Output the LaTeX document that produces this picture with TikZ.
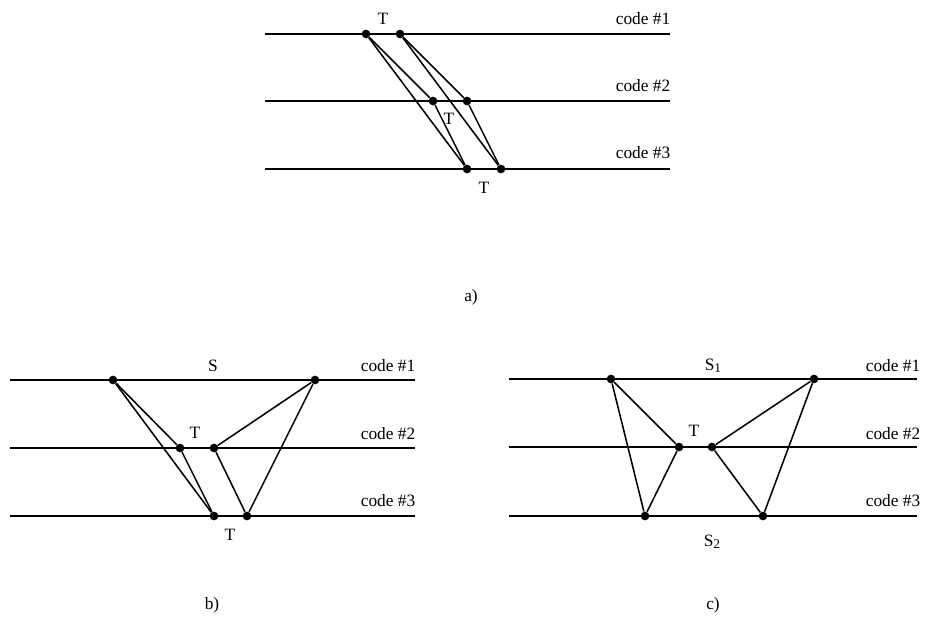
\documentclass[tikz,border=0pt]{standalone}
\usepackage{fontspec}
\setmainfont{Liberation Serif}
\usetikzlibrary{positioning}

\begin{document}
\begin{tikzpicture}[
  x=0.75pt, y=-0.75pt,
  dot/.style={circle, fill=black, inner sep=0pt, minimum size=6.5pt},
  track/.style={line width=1.6pt, black},
  link/.style={line width=1.15pt, black},
  lbl/.style={font=\fontsize{13}{15}\selectfont, inner sep=0pt},
]
\useasboundingbox (0,0) rectangle (943,627);

% =============================================
% a) three codes, shifted pairs
% =============================================
\coordinate (a1s) at (265,34);  \coordinate (a1e) at (670,34);
\coordinate (a2s) at (265,101); \coordinate (a2e) at (670,101);
\coordinate (a3s) at (265,169); \coordinate (a3e) at (670,169);
\draw[track] (a1s) -- (a1e);
\draw[track] (a2s) -- (a2e);
\draw[track] (a3s) -- (a3e);

\node[dot] (a11) at (366,34) {};
\node[dot] (a12) at (400,34) {};
\node[dot] (a21) at (433,101) {};
\node[dot] (a22) at (467,101) {};
\node[dot] (a31) at (467,169) {};
\node[dot] (a32) at (501,169) {};

\draw[link] (a11) -- (a21);
\draw[link] (a11) -- (a31);
\draw[link] (a12) -- (a22);
\draw[link] (a12) -- (a32);
\draw[link] (a21) -- (a31);
\draw[link] (a22) -- (a32);

\node[lbl] (aT1) at (383,19) {T};
\node[lbl] (aT2) at (449,119) {T};
\node[lbl] (aT3) at (484,188) {T};

\node[lbl] (ac1) at (643,19) {code \#1};
\node[lbl] (ac2) at (643,86) {code \#2};
\node[lbl] (ac3) at (643,153) {code \#3};

\node[lbl] (acap) at (471,297) {a)};

% =============================================
% b) S on code #1, T on codes #2 and #3
% =============================================
\coordinate (b1s) at (10,380);  \coordinate (b1e) at (415,380);
\coordinate (b2s) at (10,448);  \coordinate (b2e) at (415,448);
\coordinate (b3s) at (10,516);  \coordinate (b3e) at (415,516);
\draw[track] (b1s) -- (b1e);
\draw[track] (b2s) -- (b2e);
\draw[track] (b3s) -- (b3e);

\node[dot] (b11) at (113,380) {};
\node[dot] (b12) at (315,380) {};
\node[dot] (b21) at (180,448) {};
\node[dot] (b22) at (214,448) {};
\node[dot] (b31) at (214,516) {};
\node[dot] (b32) at (247,516) {};

\draw[link] (b11) -- (b21);
\draw[link] (b11) -- (b31);
\draw[link] (b21) -- (b31);
\draw[link] (b12) -- (b22);
\draw[link] (b12) -- (b32);
\draw[link] (b22) -- (b32);

\node[lbl] (bS) at (213,366) {S};
\node[lbl] (bT1) at (195,433) {T};
\node[lbl] (bT2) at (230,535) {T};

\node[lbl] (bc1) at (388,366) {code \#1};
\node[lbl] (bc2) at (388,434) {code \#2};
\node[lbl] (bc3) at (388,501) {code \#3};

\node[lbl] (bcap) at (212,605) {b)};

% =============================================
% c) S_1 on code #1, T on code #2, S_2 on code #3
% =============================================
\coordinate (c1s) at (509,379); \coordinate (c1e) at (917,379);
\coordinate (c2s) at (509,447); \coordinate (c2e) at (917,447);
\coordinate (c3s) at (509,516); \coordinate (c3e) at (917,516);
\draw[track] (c1s) -- (c1e);
\draw[track] (c2s) -- (c2e);
\draw[track] (c3s) -- (c3e);

\node[dot] (c11) at (611,379) {};
\node[dot] (c12) at (814,379) {};
\node[dot] (c21) at (679,447) {};
\node[dot] (c22) at (712,447) {};
\node[dot] (c31) at (645,516) {};
\node[dot] (c32) at (763,516) {};

\draw[link] (c11) -- (c21);
\draw[link] (c11) -- (c31);
\draw[link] (c21) -- (c31);
\draw[link] (c12) -- (c22);
\draw[link] (c12) -- (c32);
\draw[link] (c22) -- (c32);

\node[lbl] (cS1) at (713,366) {S\raisebox{-0.3ex}{\fontsize{10}{12}\selectfont 1}};
\node[lbl] (cT) at (694,431) {T};
\node[lbl] (cS2) at (712,542) {S\raisebox{-0.3ex}{\fontsize{10}{12}\selectfont 2}};

\node[lbl] (cc1) at (893,366) {code \#1};
\node[lbl] (cc2) at (893,434) {code \#2};
\node[lbl] (cc3) at (893,501) {code \#3};

\node[lbl] (ccap) at (713,605) {c)};

\end{tikzpicture}
\end{document}
